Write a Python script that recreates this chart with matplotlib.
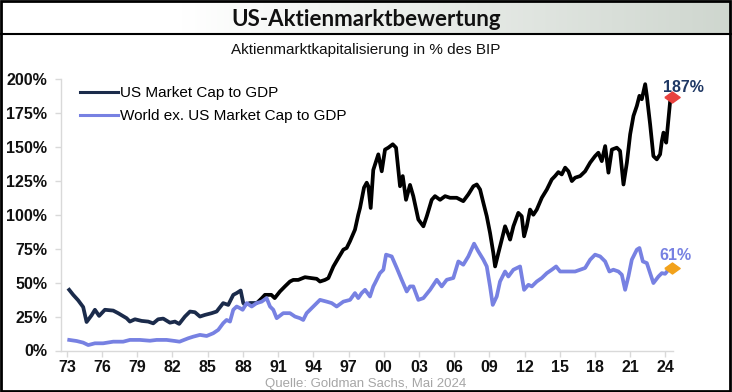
import numpy as np
import matplotlib
matplotlib.use("Agg")
import matplotlib.pyplot as plt
from matplotlib.patches import Rectangle
from matplotlib.lines import Line2D

# US market cap to GDP, early part (drawn dark navy)
us_early_years = [1973.20, 1973.54, 1973.96, 1974.39, 1974.68, 1975.11, 1975.39, 1975.75,
                  1976.24, 1976.95, 1977.37, 1977.66, 1978.09, 1978.37, 1978.80, 1979.37,
                  1979.93, 1980.36, 1980.78, 1981.21, 1981.78, 1982.21, 1982.57, 1983.06,
                  1983.49, 1983.91, 1984.34, 1984.76, 1985.34, 1985.76, 1986.32, 1986.75,
                  1987.18, 1987.47, 1987.81, 1988.03, 1988.17, 1988.60, 1989.17, 1989.45]
us_early_vals = [44.7, 41.0, 37.0, 32.0, 21.0, 26.0, 30.0, 25.5,
                 30.0, 29.4, 27.5, 26.0, 23.8, 21.3, 23.0, 21.8,
                 21.3, 20.0, 23.0, 23.5, 20.5, 21.3, 19.6, 25.0,
                 28.7, 28.2, 25.0, 26.2, 27.5, 28.7, 34.9, 33.6,
                 41.0, 42.3, 44.2, 35.0, 33.6, 35.0, 35.0, 37.0]

# US market cap to GDP, from 1989 on (drawn black)
us_years = [1989.45, 1989.88, 1990.42, 1990.71, 1991.16, 1991.58, 1992.01, 1992.29,
            1992.72, 1993.29, 1993.86, 1994.29, 1994.57, 1994.99, 1995.28, 1995.71,
            1996.13, 1996.56, 1996.84, 1997.12, 1997.55, 1997.83, 1997.98, 1998.32,
            1998.55, 1998.69, 1998.89, 1999.11, 1999.54, 1999.83, 2000.11, 2000.39,
            2000.77, 2001.05, 2001.39, 2001.62, 2001.90, 2002.24, 2002.52, 2002.95,
            2003.38, 2003.67, 2004.09, 2004.37, 2004.80, 2005.23, 2005.65, 2006.22,
            2006.78, 2007.21, 2007.64, 2007.93, 2008.21, 2008.49, 2008.78, 2009.06,
            2009.34, 2009.49, 2009.77, 2010.06, 2010.34, 2010.62, 2010.77, 2011.05,
            2011.47, 2011.76, 2011.96, 2012.19, 2012.47, 2012.75, 2013.04, 2013.47,
            2013.90, 2014.32, 2014.60, 2014.88, 2015.17, 2015.46, 2015.74, 2016.03,
            2016.31, 2016.74, 2017.16, 2017.59, 2018.01, 2018.29, 2018.58, 2018.87,
            2019.15, 2019.44, 2019.86, 2020.14, 2020.43, 2020.72, 2021.00, 2021.28,
            2021.57, 2021.79, 2021.99, 2022.28, 2022.42, 2022.70, 2022.98, 2023.27,
            2023.55, 2023.70, 2023.84, 2024.07, 2024.18, 2024.41, 2024.47]
us_vals = [37.0, 41.0, 41.0, 38.6, 43.5, 47.2, 50.8, 52.0,
           52.0, 54.0, 53.3, 52.8, 50.8, 52.0, 53.3, 61.9,
           68.1, 74.3, 75.5, 80.4, 89.0, 100.0, 105.0, 120.0,
           123.6, 121.0, 105.0, 133.0, 144.5, 132.0, 148.0, 149.4,
           151.9, 149.4, 121.0, 128.5, 111.0, 122.0, 113.7, 96.5,
           91.5, 98.9, 111.0, 113.7, 111.0, 113.7, 112.5, 112.5,
           110.0, 115.0, 121.0, 122.3, 118.6, 108.8, 98.9, 86.6,
           71.8, 61.9, 71.8, 81.7, 91.5, 85.4, 81.7, 91.5,
           101.4, 98.9, 84.1, 91.5, 103.8, 100.0, 103.8, 112.5,
           118.6, 126.0, 128.5, 131.4, 129.7, 134.7, 132.0, 124.8,
           127.3, 128.5, 132.0, 138.4, 143.2, 145.7, 139.5, 150.6,
           131.0, 148.0, 149.4, 147.0, 122.3, 138.4, 159.3, 172.8,
           180.2, 187.6, 185.1, 196.2, 187.6, 166.7, 143.2, 140.8,
           144.5, 154.3, 160.5, 153.1, 163.0, 183.9, 187.0]

# World ex. US market cap to GDP
world_years = [1973.20, 1973.83, 1974.39, 1974.82, 1975.39, 1976.09, 1976.95, 1977.80,
               1978.37, 1979.22, 1980.08, 1980.65, 1981.50, 1982.21, 1982.60, 1983.34,
               1983.77, 1984.34, 1984.91, 1985.47, 1985.90, 1986.32, 1986.61, 1986.90,
               1987.18, 1987.47, 1987.75, 1987.98, 1988.32, 1988.75, 1989.17, 1989.60,
               1990.02, 1990.31, 1990.59, 1990.88, 1991.44, 1992.01, 1992.44, 1992.86,
               1993.14, 1993.43, 1994.00, 1994.57, 1995.14, 1995.57, 1995.99, 1996.56,
               1997.13, 1997.55, 1997.83, 1998.12, 1998.41, 1998.83, 1999.11, 1999.26,
               1999.68, 1999.97, 2000.20, 2000.68, 2001.11, 2001.53, 2001.96, 2002.24,
               2002.52, 2002.95, 2003.38, 2003.95, 2004.52, 2004.94, 2005.37, 2005.93,
               2006.36, 2006.78, 2007.21, 2007.70, 2008.06, 2008.49, 2008.78, 2009.06,
               2009.29, 2009.63, 2009.91, 2010.34, 2010.62, 2011.05, 2011.62, 2011.96,
               2012.33, 2012.62, 2013.04, 2013.47, 2013.90, 2014.32, 2014.69, 2015.03,
               2015.46, 2015.88, 2016.31, 2016.74, 2017.16, 2017.59, 2018.01, 2018.44,
               2018.87, 2019.23, 2019.57, 2020.00, 2020.29, 2020.57, 2020.85, 2021.14,
               2021.57, 2021.79, 2022.08, 2022.42, 2022.70, 2022.98, 2023.41, 2023.70,
               2023.98, 2024.26, 2024.47]
world_vals = [7.8, 7.0, 5.8, 4.0, 5.3, 5.3, 6.5, 6.5,
              7.8, 7.8, 7.2, 7.8, 7.8, 7.0, 6.5, 9.0,
              10.2, 11.5, 10.7, 12.7, 15.2, 20.1, 22.5, 21.3,
              30.0, 32.4, 31.2, 30.0, 34.9, 32.4, 34.9, 36.0,
              38.6, 32.4, 30.0, 23.8, 27.5, 27.5, 25.0, 23.8,
              22.5, 27.5, 32.4, 37.3, 36.0, 34.9, 32.4, 36.0,
              37.3, 42.3, 38.6, 42.3, 44.7, 39.8, 47.2, 49.7,
              57.0, 59.5, 70.6, 69.3, 60.8, 52.1, 43.5, 47.2,
              47.2, 37.3, 38.6, 44.7, 52.1, 47.2, 52.1, 53.4,
              65.6, 63.2, 69.3, 78.7, 73.0, 66.9, 61.9, 47.2,
              33.6, 39.8, 50.8, 58.2, 54.5, 59.5, 61.9, 44.7,
              48.4, 47.2, 50.8, 53.4, 57.0, 59.5, 61.9, 58.2,
              58.2, 58.2, 58.2, 59.5, 60.8, 66.9, 70.6, 69.3,
              65.6, 58.2, 59.5, 58.2, 55.8, 44.7, 54.5, 66.9,
              74.3, 75.5, 65.6, 64.4, 57.0, 49.7, 54.5, 57.0,
              56.5, 59.5, 61.0]

tick_years = list(range(1973, 2025, 3))
tick_labels = [f"{y % 100:02d}" for y in tick_years]
y_ticks = [0, 25, 50, 75, 100, 125, 150, 175, 200]

NAVY  = "#1b2b4b"
BLACK = "#000000"
BLUE  = "#7781e2"
RED   = "#e8423f"
ORANGE = "#f2a21b"
GREY  = "#d9d9d9"

plt.rcParams["font.family"] = ["Liberation Sans", "DejaVu Sans"]

W, H = 732, 392
fig = plt.figure(figsize=(W / 100, H / 100), dpi=100)
fig.patch.set_facecolor("white")

# header band with light gradient
hdr_h = 34
hax = fig.add_axes([0, 1 - hdr_h / H, 1, hdr_h / H])
grad = np.linspace(0, 1, 256)
grad = np.clip((grad - 0.25) / 0.75, 0, 1)
c0 = np.array([1.0, 1.0, 1.0])
c1 = np.array([0.81, 0.84, 0.81])
img = c0[None, None, :] * (1 - grad[None, :, None]) + c1[None, None, :] * grad[None, :, None]
hax.imshow(img, aspect="auto", extent=[0, 1, 0, 1])
hax.set_axis_off()
fig.text(0.5, 1 - 19 / H, "US-Aktienmarktbewertung", ha="center", va="center",
         fontsize=16, fontweight="bold", family=["Lato", "DejaVu Sans"], color="#111111")
fig.add_artist(Line2D([0, 1], [1 - hdr_h / H] * 2, transform=fig.transFigure,
                      color="black", lw=1.5))
fig.text(0.5, 1 - 50 / H, "Aktienmarktkapitalisierung in % des BIP", ha="center",
         va="center", fontsize=11, color="#111111")

ax = fig.add_axes([61 / W, 1 - 350.5 / H, (673 - 61) / W, (350.5 - 79) / H])
ax.plot(us_early_years, us_early_vals, color=NAVY, lw=2.7, solid_joinstyle="round")
ax.plot(us_years, us_vals, color=BLACK, lw=2.7, solid_joinstyle="round")
ax.plot(world_years, world_vals, color=BLUE, lw=2.7, solid_joinstyle="round")

diamond = [(-1, 0), (0, 0.72), (1, 0), (0, -0.72), (-1, 0)]
ax.plot([2024.6], [us_vals[-1]], marker=diamond, ms=11, color=RED, mec=RED, clip_on=False)
ax.plot([2024.6], [world_vals[-1]], marker=diamond, ms=11, color=ORANGE, mec=ORANGE,
        clip_on=False)
ax.text(2025.5, 194, f"{us_vals[-1]:.0f}%", ha="center", va="center", fontsize=11.5,
        fontweight="bold", color="#1f3864", clip_on=False)
ax.text(2024.9, 70, f"{world_vals[-1]:.0f}%", ha="center", va="center", fontsize=11.5,
        fontweight="bold", color=BLUE, clip_on=False)

ax.set_xlim(1972.5, 2024.65)
ax.set_ylim(0, 200)
ax.set_xticks(tick_years)
ax.set_xticklabels(tick_labels)
ax.set_yticks(y_ticks)
ax.set_yticklabels([f"{v}%" for v in y_ticks])
ax.tick_params(axis="both", colors=GREY, length=4, width=1, labelsize=11.5,
               labelcolor="#111111")
ax.tick_params(axis="y", pad=6)
ax.tick_params(axis="x", pad=3)
for lbl in ax.get_xticklabels() + ax.get_yticklabels():
    lbl.set_fontweight("bold")
for s in ["top", "right"]:
    ax.spines[s].set_visible(False)
for s in ["left", "bottom"]:
    ax.spines[s].set_color(GREY)
    ax.spines[s].set_linewidth(1)

handles = [Line2D([], [], color=NAVY, lw=2.2), Line2D([], [], color=BLUE, lw=2.2)]
ax.legend(handles, ["US Market Cap to GDP", "World ex. US Market Cap to GDP"],
          loc="upper left", bbox_to_anchor=(0.009, 1.025), frameon=False, fontsize=11,
          handlelength=2.5, handletextpad=0.1, labelspacing=0.6)

fig.text(0.5, 1 - 384 / H, "Quelle: Goldman Sachs, Mai 2024", ha="center", va="center",
         fontsize=9.5, color="#a6a6a6")

fig.add_artist(Rectangle((0.0015, 0.003), 0.996, 0.994, transform=fig.transFigure,
                         fill=False, ec="black", lw=2))

fig.savefig("out.png", dpi=100)
